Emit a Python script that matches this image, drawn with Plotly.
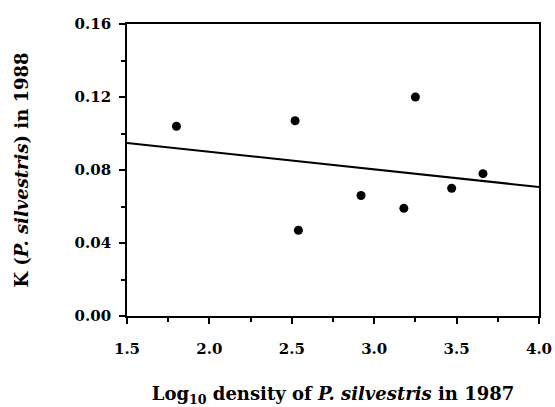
import plotly.graph_objects as go

# Data
density_log10_1987 = [1.80, 2.52, 2.54, 2.92, 3.18, 3.25, 3.47, 3.66]
k_1988 = [0.104, 0.107, 0.047, 0.066, 0.059, 0.120, 0.070, 0.078]

# Regression line endpoints
fit_x = [1.5, 4.0]
fit_y = [0.0948, 0.0707]

x_ticks = [1.5, 2.0, 2.5, 3.0, 3.5, 4.0]
y_ticks = [0.00, 0.04, 0.08, 0.12, 0.16]

FONT = "DejaVu Serif"

fig = go.Figure()
fig.add_trace(go.Scatter(x=fit_x, y=fit_y, mode="lines",
                         line=dict(color="black", width=2), showlegend=False,
                         hoverinfo="skip"))
fig.add_trace(go.Scatter(x=density_log10_1987, y=k_1988, mode="markers",
                         marker=dict(color="black", size=9), showlegend=False))

axis_common = dict(showline=True, linecolor="black", linewidth=1.8, mirror=True,
                   ticks="outside", ticklen=6, tickwidth=1.5, tickcolor="black",
                   showgrid=False, zeroline=False, automargin=False,
                   tickfont=dict(family=FONT, size=15, color="black", weight="bold"))

fig.update_xaxes(range=[1.5, 4.0], tickvals=x_ticks,
                 ticktext=[f"{v:.1f}" for v in x_ticks],
                 ticklabelstandoff=12,
                 minor=dict(ticks="outside", ticklen=4, tickwidth=1.5,
                            tickcolor="black", dtick=0.25, tick0=1.5),
                 title=dict(text="Log<sub>10</sub> density of <i>P. silvestris</i> in 1987",
                            font=dict(family=FONT, size=18, color="black", weight="bold"),
                            standoff=34),
                 **axis_common)
fig.update_yaxes(range=[0, 0.16], tickvals=y_ticks,
                 ticktext=[f"{v:.2f}" for v in y_ticks],
                 ticklabelstandoff=5,
                 minor=dict(ticks="outside", ticklen=4, tickwidth=1.5,
                            tickcolor="black", dtick=0.02, tick0=0),
                 title=dict(text="K (<i>P. silvestris</i>) in 1988",
                            font=dict(family=FONT, size=18, color="black", weight="bold"),
                            standoff=41),
                 **axis_common)

fig.update_layout(width=555, height=407,
                  margin=dict(l=127, r=16, t=24, b=91),
                  plot_bgcolor="white", paper_bgcolor="white")

fig.write_html("out.html", config={"displayModeBar": False},
               post_script="document.body.style.margin='0';document.body.style.overflow='hidden';")
